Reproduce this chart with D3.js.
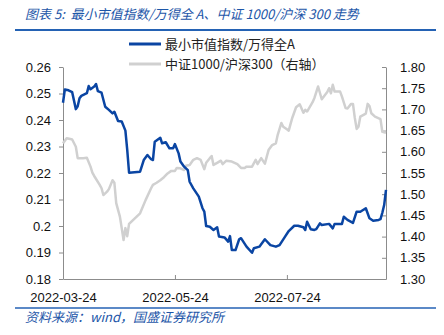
<!DOCTYPE html>
<html><head><meta charset="utf-8">
<script src="https://cdn.jsdelivr.net/npm/d3@7/dist/d3.min.js"></script>
<style>
html,body{margin:0;padding:0;background:#fff;}
svg{display:block;}
</style></head>
<body>
<svg id="c" width="444" height="335"></svg>
<script>
const titleText = "图表 5:  最小市值指数/万得全 A、中证 1000/沪深 300 走势";
const sourceText = "资料来源：wind，国盛证券研究所";
const seriesNames = ["最小市值指数/万得全A", "中证1000/沪深300（右轴）"];

const smallDates = ["2022-03-24","2022-03-25","2022-03-27","2022-03-29","2022-03-31","2022-04-01","2022-04-02","2022-04-03","2022-04-06","2022-04-07","2022-04-08","2022-04-10","2022-04-11","2022-04-12","2022-04-14","2022-04-16","2022-04-18","2022-04-20","2022-04-21","2022-04-23","2022-04-25","2022-04-27","2022-04-28","2022-04-29","2022-05-05","2022-05-07","2022-05-09","2022-05-11","2022-05-12","2022-05-13","2022-05-16","2022-05-17","2022-05-19","2022-05-21","2022-05-23","2022-05-24","2022-05-26","2022-05-27","2022-05-29","2022-05-31","2022-06-01","2022-06-03","2022-06-06","2022-06-08","2022-06-09","2022-06-10","2022-06-12","2022-06-14","2022-06-16","2022-06-17","2022-06-20","2022-06-22","2022-06-23","2022-06-24","2022-06-26","2022-06-28","2022-06-29","2022-07-02","2022-07-05","2022-07-06","2022-07-09","2022-07-12","2022-07-15","2022-07-18","2022-07-20","2022-07-23","2022-07-25","2022-07-28","2022-07-30","2022-08-02","2022-08-03","2022-08-04","2022-08-06","2022-08-08","2022-08-09","2022-08-11","2022-08-12","2022-08-16","2022-08-18","2022-08-19","2022-08-23","2022-08-24","2022-08-26","2022-08-29","2022-08-31","2022-09-02","2022-09-05","2022-09-07","2022-09-09","2022-09-12","2022-09-13","2022-09-14","2022-09-15","2022-09-16"];
const smallValues = [0.2465,0.2515,0.2512,0.2505,0.2441,0.2452,0.2482,0.2491,0.2501,0.2528,0.2516,0.2526,0.2536,0.2509,0.2503,0.2450,0.2438,0.2425,0.2431,0.2396,0.2394,0.2360,0.2287,0.2201,0.2205,0.2249,0.2268,0.2252,0.2249,0.2318,0.2333,0.2312,0.2316,0.2293,0.2293,0.2309,0.2274,0.2243,0.2224,0.2211,0.2167,0.2142,0.2111,0.2067,0.2054,0.2000,0.1997,0.1985,0.1995,0.1960,0.1957,0.1941,0.1962,0.1909,0.1909,0.1950,0.1954,0.1922,0.1899,0.1916,0.1922,0.1950,0.1928,0.1922,0.1928,0.1960,0.1981,0.2001,0.2001,0.1995,0.1985,0.2016,0.1988,0.1985,0.1988,0.2010,0.2004,0.2008,0.1991,0.2008,0.2008,0.2035,0.2023,0.2012,0.2054,0.2054,0.2067,0.2029,0.2020,0.2023,0.2026,0.2050,0.2079,0.2136];

const ratioDates = ["2022-03-24","2022-03-26","2022-03-28","2022-03-29","2022-03-31","2022-04-01","2022-04-04","2022-04-06","2022-04-08","2022-04-09","2022-04-10","2022-04-13","2022-04-14","2022-04-15","2022-04-17","2022-04-18","2022-04-20","2022-04-21","2022-04-22","2022-04-24","2022-04-25","2022-04-26","2022-04-27","2022-04-28","2022-04-29","2022-05-05","2022-05-08","2022-05-11","2022-05-12","2022-05-14","2022-05-16","2022-05-18","2022-05-20","2022-05-22","2022-05-24","2022-05-25","2022-05-27","2022-05-29","2022-05-30","2022-06-01","2022-06-03","2022-06-05","2022-06-07","2022-06-09","2022-06-10","2022-06-12","2022-06-13","2022-06-14","2022-06-16","2022-06-18","2022-06-19","2022-06-21","2022-06-24","2022-06-27","2022-06-29","2022-07-01","2022-07-02","2022-07-05","2022-07-07","2022-07-08","2022-07-10","2022-07-12","2022-07-14","2022-07-16","2022-07-18","2022-07-19","2022-07-21","2022-07-22","2022-07-24","2022-07-25","2022-07-26","2022-07-27","2022-07-29","2022-07-31","2022-08-02","2022-08-03","2022-08-04","2022-08-07","2022-08-08","2022-08-10","2022-08-12","2022-08-15","2022-08-16","2022-08-17","2022-08-18","2022-08-19","2022-08-22","2022-08-23","2022-08-25","2022-08-26","2022-08-28","2022-08-29","2022-08-30","2022-08-31","2022-09-01","2022-09-02","2022-09-05","2022-09-06","2022-09-07","2022-09-08","2022-09-10","2022-09-13","2022-09-14","2022-09-16"];
const ratioValues = [1.620,1.632,1.630,1.629,1.612,1.585,1.585,1.586,1.565,1.551,1.543,1.522,1.514,1.498,1.506,1.512,1.533,1.527,1.479,1.447,1.420,1.392,1.420,1.401,1.430,1.455,1.486,1.514,1.522,1.527,1.533,1.540,1.549,1.555,1.555,1.562,1.561,1.557,1.567,1.569,1.581,1.585,1.581,1.559,1.574,1.585,1.590,1.569,1.574,1.579,1.571,1.579,1.577,1.571,1.562,1.562,1.565,1.565,1.581,1.571,1.585,1.572,1.604,1.616,1.620,1.640,1.668,1.659,1.653,1.650,1.666,1.681,1.705,1.712,1.692,1.699,1.695,1.717,1.727,1.754,1.724,1.741,1.750,1.738,1.758,1.742,1.742,1.730,1.703,1.702,1.713,1.713,1.680,1.654,1.659,1.683,1.690,1.713,1.708,1.691,1.683,1.677,1.647,1.645];

const leftTicks = [0.18,0.19,0.2,0.21,0.22,0.23,0.24,0.25,0.26];
const leftTickLabels = ["0.18","0.19","0.2","0.21","0.22","0.23","0.24","0.25","0.26"];
const rightTicks = [1.30,1.35,1.40,1.45,1.50,1.55,1.60,1.65,1.70,1.75,1.80];
const rightTickLabels = ["1.30","1.35","1.40","1.45","1.50","1.55","1.60","1.65","1.70","1.75","1.80"];
const xTickDates = ["2022-03-24","2022-05-24","2022-07-24"];
const xDomain = ["2022-03-24","2022-09-16"];

const parse = d3.timeParse("%Y-%m-%d");
const svg = d3.select("#c");
const BLUE = "#0a45a3", GRAY = "#d0d0d0", RULE = "#2462b4", AXIS = "#8c8c8c";
const cjk = "'Noto Sans CJK SC','Liberation Sans',sans-serif";
const num = "'Liberation Sans',Arial,sans-serif";

const L = 63, R = 386, T = 67, B = 279;
const x = d3.scaleTime().domain(xDomain.map(parse)).range([L, R]);
const yL = d3.scaleLinear().domain([0.18, 0.26]).range([B, T]);
const yR = d3.scaleLinear().domain([1.30, 1.80]).range([B, T]);

// title
svg.append("text").attr("x", 25).attr("y", 19).attr("fill", "#1d56a8")
  .attr("font-family", cjk).attr("font-style", "italic").attr("font-size", 13)
  .attr("xml:space","preserve").style("white-space","pre").text(titleText);
svg.append("line").attr("x1", 15).attr("x2", 436).attr("y1", 30).attr("y2", 30)
  .attr("stroke", RULE).attr("stroke-width", 2);

// legend
const leg = [{name: seriesNames[0], color: BLUE, y: 44}, {name: seriesNames[1], color: GRAY, y: 64}];
leg.forEach(l => {
  svg.append("line").attr("x1", 129).attr("x2", 161).attr("y1", l.y).attr("y2", l.y)
    .attr("stroke", l.color).attr("stroke-width", 3);
  svg.append("text").attr("x", 165).attr("y", l.y + 5).attr("fill", "#222")
    .attr("font-family", cjk).attr("font-size", 13).text(l.name);
});

// axes
const gL = svg.append("g").attr("transform", `translate(${L},0)`)
  .call(d3.axisLeft(yL).tickValues(leftTicks).tickSizeInner(4).tickSizeOuter(0).tickPadding(8)
    .tickFormat((d, i) => leftTickLabels[i]));
const gR = svg.append("g").attr("transform", `translate(${R},0)`)
  .call(d3.axisRight(yR).tickValues(rightTicks).tickSizeInner(-4).tickSizeOuter(0).tickPadding(14)
    .tickFormat((d, i) => rightTickLabels[i]));
const gB = svg.append("g").attr("transform", `translate(0,${B})`)
  .call(d3.axisBottom(x).tickValues(xTickDates.map(parse)).tickSizeInner(-4).tickSizeOuter(0).tickPadding(14)
    .tickFormat((d, i) => xTickDates[i]));
[gL, gR, gB].forEach(g => {
  g.select(".domain").attr("stroke", AXIS);
  g.selectAll(".tick line").attr("stroke", AXIS);
  g.selectAll("text").attr("fill", "#111").attr("font-family", num).attr("font-size", 13);
});

// lines
const ratioData = ratioDates.map((d, i) => ({d: parse(d), v: ratioValues[i]}));
const smallData = smallDates.map((d, i) => ({d: parse(d), v: smallValues[i]}));
svg.append("path").datum(ratioData).attr("fill", "none").attr("stroke", GRAY)
  .attr("stroke-width", 2.5).attr("stroke-linejoin", "round")
  .attr("d", d3.line().x(p => x(p.d)).y(p => yR(p.v)));
svg.append("path").datum(smallData).attr("fill", "none").attr("stroke", BLUE)
  .attr("stroke-width", 2.5).attr("stroke-linejoin", "round")
  .attr("d", d3.line().x(p => x(p.d)).y(p => yL(p.v)));

// bottom rule & source
svg.append("line").attr("x1", 15).attr("x2", 436).attr("y1", 308).attr("y2", 308)
  .attr("stroke", RULE).attr("stroke-width", 1.5);
svg.append("text").attr("x", 25).attr("y", 322).attr("fill", "#1d56a8")
  .attr("font-family", cjk).attr("font-style", "italic").attr("font-size", 13).text(sourceText);
</script>
</body></html>
